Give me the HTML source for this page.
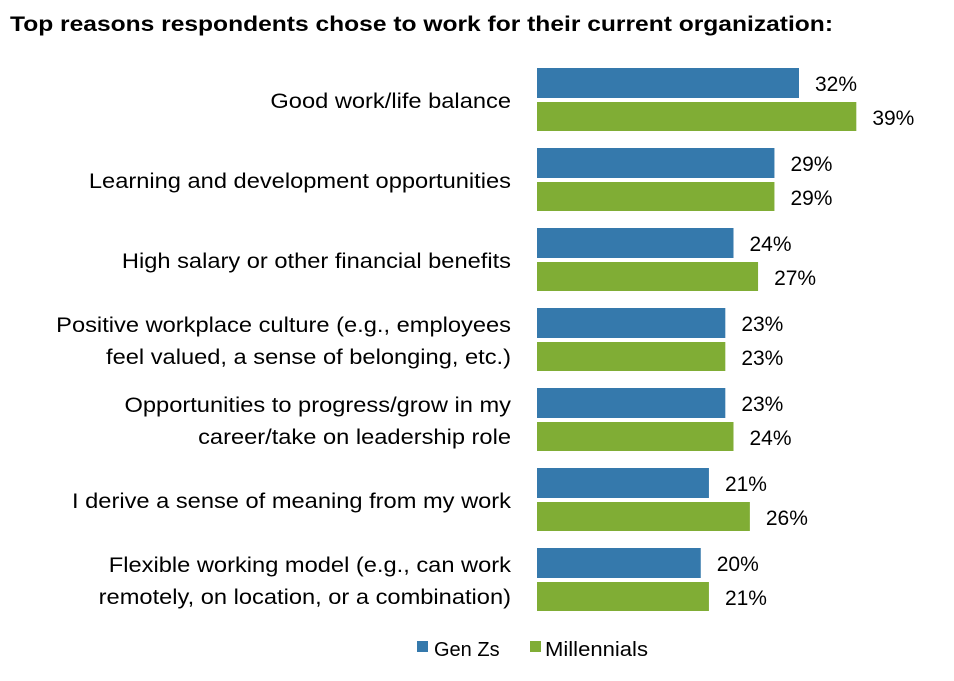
<!DOCTYPE html>
<html><head><meta charset="utf-8"><style>
body{margin:0;background:#fff;width:954px;height:676px;overflow:hidden;font-family:"Liberation Sans",sans-serif}
svg text{font-family:"Liberation Sans",sans-serif}
</style></head><body>
<svg id="chart" width="954" height="676">
<text x="10" y="31" font-size="21" font-weight="bold" fill="#000" textLength="823" lengthAdjust="spacingAndGlyphs">Top reasons respondents chose to work for their current organization:</text>
<g id="bars"></g>
<g>
<rect x="417" y="641" width="11" height="11" fill="#3579ac"/>
<text x="434" y="656" font-size="20" fill="#000">Gen Zs</text>
<rect x="530" y="641" width="11" height="11" fill="#80ad35"/>
<text x="545" y="656" font-size="20" fill="#000" textLength="103" lengthAdjust="spacingAndGlyphs">Millennials</text>
</g>
</svg>
<script>
const categories=[["Good work/life balance"],["Learning and development opportunities"],["High salary or other financial benefits"],["Positive workplace culture (e.g., employees","feel valued, a sense of belonging, etc.)"],["Opportunities to progress/grow in my","career/take on leadership role"],["I derive a sense of meaning from my work"],["Flexible working model (e.g., can work","remotely, on location, or a combination)"]];
const genZ=[32,29,24,23,23,21,20];
const millennials=[39,29,27,23,24,26,21];
const NS="http://www.w3.org/2000/svg";
const g=document.getElementById('bars');
const x0=537,scale=262/32;
function xLen(v){return v*scale;}
function yGroup(i){return 68+i*80;}
function mk(tag,attrs){const e=document.createElementNS(NS,tag);for(const k in attrs)e.setAttribute(k,attrs[k]);g.appendChild(e);return e;}
categories.forEach((lines,i)=>{
  const y=yGroup(i);
  const b1=mk('rect',{x:x0,y:y,width:xLen(genZ[i]),height:30,fill:'#3579ac'});
  
  
  const b2=mk('rect',{x:x0,y:y+34,width:xLen(millennials[i]),height:29,fill:'#80ad35'});
  
  
  const t1=mk('text',{x:x0+xLen(genZ[i])+16,y:y+23,'font-size':21,fill:'#000'});
  t1.textContent=genZ[i]+'%';
  
  
  const t2=mk('text',{x:x0+xLen(millennials[i])+16,y:y+57,'font-size':21,fill:'#000'});
  t2.textContent=millennials[i]+'%';
  
  
  lines.forEach((ln,j)=>{
    const ly=lines.length===1?y+40:y+24+j*32;
    const t=mk('text',{x:511,y:ly,'font-size':21.5,fill:'#000','text-anchor':'end'});
    t.textContent=ln;
    
    
    const w=t.getComputedTextLength();
    t.setAttribute('textLength',(w*1.1).toFixed(1));
    t.setAttribute('lengthAdjust','spacingAndGlyphs');
  });
});
</script>
</body></html>
